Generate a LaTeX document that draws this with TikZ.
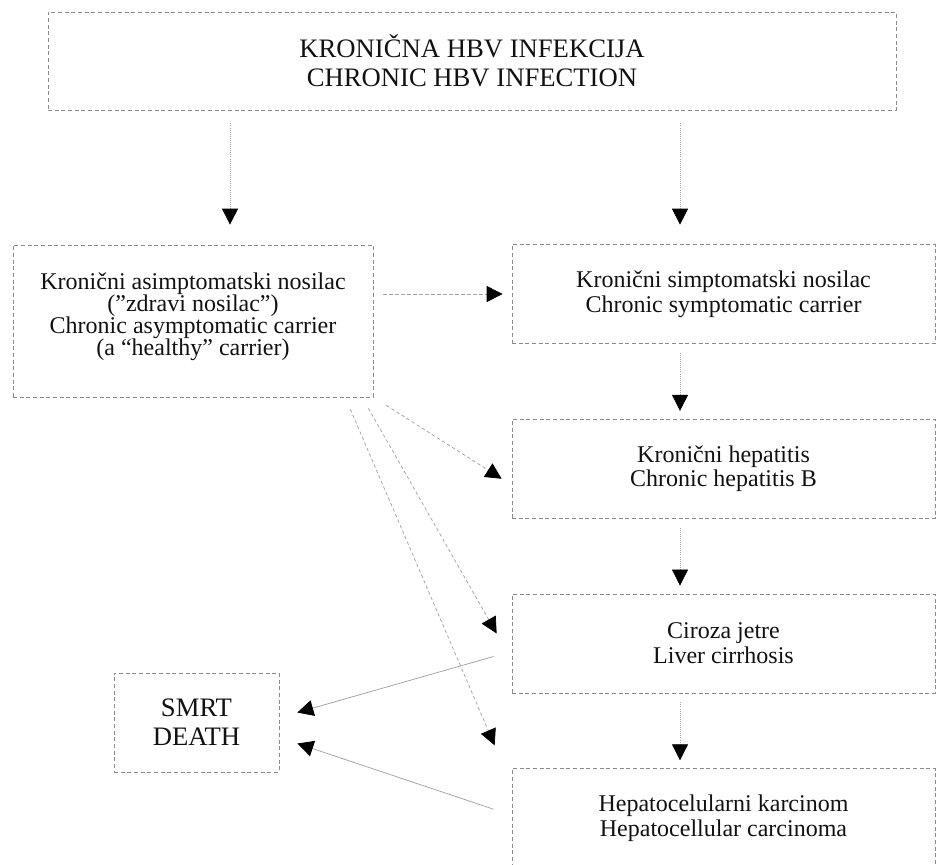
\documentclass[tikz,border=0pt]{standalone}
\usepackage{fontspec}
\setmainfont{Liberation Serif}
\usepackage{tikz}
\usetikzlibrary{arrows.meta,positioning,calc}
\definecolor{cBorder}{HTML}{8A8A8A}
\definecolor{cLink}{HTML}{A0A0A0}
\definecolor{cInk}{HTML}{111111}
\tikzset{
  box/.style   = {draw=cBorder, densely dashed, line width=0.55pt, align=center,
                  inner sep=0pt, text=cInk, font=\fontsize{18pt}{18.5pt}\selectfont},
  big/.style   = {box, font=\fontsize{20pt}{22pt}\selectfont},
  lifted/.style = {text depth=#1},
  stage/.style = {box, minimum width=317.25pt, minimum height=74.25pt},
  flow/.style  = {-{Triangle[length=12pt, width=12pt, color=black]},
                  draw=cLink, line width=0.55pt},
  vflow/.style = {flow, densely dotted},
  dflow/.style = {flow, dash pattern=on 2.5pt off 2pt},
}

\begin{document}
\begin{tikzpicture}[x=0.75pt, y=-0.75pt, node distance=56.25pt]
  \useasboundingbox (0,0) rectangle (942,864);
  \coordinate (colL) at (230,0);
  \coordinate (colR) at (680,0);
  % ---- top ----
  \node[big, minimum width=636pt, minimum height=73.5pt] (infect) at (472,61)
    {KRONIČNA HBV INFEKCIJA\\CHRONIC HBV INFECTION};
  % ---- left column ----
  \node[box, lifted=11pt, font=\fontsize{18pt}{16.5pt}\selectfont,
        minimum width=270pt, minimum height=114pt] (asym) at (193,321)
    {Kronični asimptomatski nosilac\\(”zdravi nosilac”)\\
     Chronic asymptomatic carrier\\(a “healthy” carrier)};
  \node[big, minimum width=123.75pt, minimum height=74.25pt] (death) at (196.5,722.5)
    {SMRT\\DEATH};
  % ---- right column ----
  \node[stage] (sympt) at (723.5,294)
    {Kronični simptomatski nosilac\\Chronic symptomatic carrier};
  \node[stage, below=of sympt] (hepat)
    {Kronični hepatitis\\Chronic hepatitis B};
  \node[stage, below=of hepat] (cirr)
    {Ciroza jetre\\Liver cirrhosis};
  \node[stage, below=of cirr] (hcc)
    {Hepatocelularni karcinom\\Hepatocellular carcinoma};
  % ---- main arrows ----
  \draw[vflow, shorten <=9.75pt, shorten >=15pt] (infect.south -| colL) -- (asym.north -| colL);
  \draw[vflow, shorten <=9.75pt, shorten >=14.6pt] (infect.south -| colR) -- (sympt.north -| colR);
  \draw[vflow, shorten <=6.75pt, shorten >=6pt] (sympt.south -| colR) -- (hepat.north -| colR);
  \draw[vflow, shorten <=6.75pt, shorten >=6pt] (hepat.south -| colR) -- (cirr.north -| colR);
  \draw[vflow, shorten <=6.75pt, shorten >=6pt] (cirr.south -| colR) -- (hcc.north -| colR);
  % ---- carrier arrows ----
  \draw[dflow, shorten <=7.5pt, shorten >=6.75pt] (asym.east |- sympt.west) -- (sympt.west);
  \draw[dflow] ($(asym.south east)+(13,8)$) -- ($(hepat.west)+(-10,10)$);
  \draw[dflow] ($(asym.south east)+(-5,11)$) -- ($(cirr.west)+(-15,-10)$);
  \draw[dflow] ($(asym.south east)+(-23,12)$) -- ($(hcc.north west)+(-17,-23)$);
  % ---- to death ----
  \draw[flow] ($(cirr.west)+(-18,13)$) -- ($(death.east)+(18,-10)$);
  \draw[flow] ($(hcc.west)+(-18,-9)$) -- ($(death.east)+(18,21)$);
\end{tikzpicture}
\end{document}
